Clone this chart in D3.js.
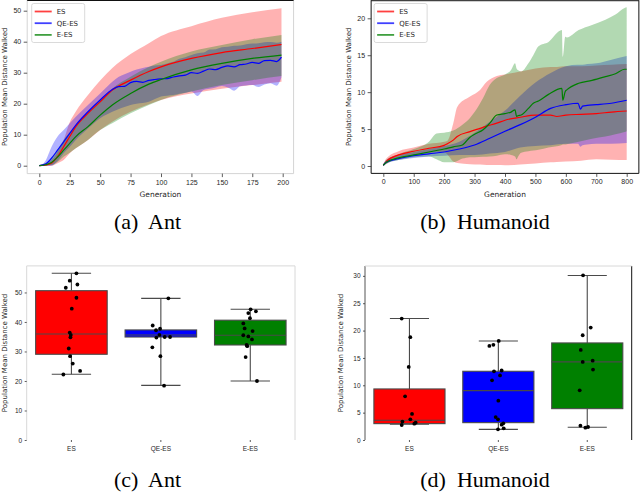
<!DOCTYPE html>
<html>
<head>
<meta charset="utf-8">
<script src="https://cdn.jsdelivr.net/npm/d3@7"></script>
<style>
body { margin: 0; background: #fff; }
svg { display: block; font-family: "DejaVu Sans", sans-serif; }
.tick text { fill: #262626; }
.tick line { stroke: #333; }
.cap { font-family: "Liberation Serif", "Times New Roman", serif; font-size: 22px; fill: #000; white-space: pre; }
</style>
</head>
<body>
<svg width="640" height="492"></svg>
<script>
var methods = ["ES", "QE-ES", "E-ES"];
var colors = {"ES": "#ff0000", "QE-ES": "#0000ff", "E-ES": "#008000"};

// ---- (a) Ant : training curves ----
var antGen = [0,5,10,15,20,25,30,40,50,60,75,90,100,125,150,175,199];
var antEsMean = [0,0.2,0.8,2.9,6.1,9.4,12.6,16.9,20.6,24.4,27.6,30.4,31.9,34.6,36.5,37.8,39.1];
var antEsHigh = [0,0.5,1.8,4.5,8.3,14,17.5,22.8,27.5,31.5,36,39.5,41.8,45,47.7,49.5,50.8];
var antEsLow  = [0,0,0,0.8,1.8,4,5.6,8.3,11.5,14.2,17.4,19.8,21.2,23.3,24.8,26,27.1];
var antEeMean = [0,0.3,1,2.8,5,7.2,9.4,12.6,16.3,19.6,23.3,26.3,27.8,30.9,33,34.6,35.7];
var antEeHigh = [0,0.8,2.4,5.2,8.3,10.8,13.1,17.4,21.2,24.9,28.7,31.8,33.5,36.8,38.9,40.8,42.2];
var antEeLow  = [0,0,0.2,1.2,2.9,4.2,5.6,8.3,11.5,13.7,16.9,19.6,21.2,23.9,26,27.6,28.9];
var antQeGen  = [0,5,10,15,20,25,30,40,50,60,65,70,75,80,85,90,95,100,105,110,115,120,125,130,135,140,145,150,155,160,165,170,175,180,185,190,195,199];
var antQeMean = [0,0.5,2.4,5,7.7,10.4,13.1,17.4,21.2,24.6,25.5,25.6,26.8,27.2,26.9,27.5,27.8,28,28.1,28.6,29,29.2,30,29.8,30.5,31.2,31,31.7,32.2,31.9,32.6,32.8,33.3,33,33.9,34,33.6,35];
var antQeHigh = [0,1.5,6,9.4,11.5,13.7,15.8,19.6,23.3,27.1,28.6,29.5,30.3,31,31.5,31.9,32.3,32.5,33,33.5,34.5,35,35.7,36.3,36.5,37.5,37.6,38.2,38.4,38.7,38.8,39.2,39.4,39.5,39.8,39.9,39.7,40];
var antQeLow  = [0,0,0,1.5,4,6,8.3,12,15.3,17.4,18.2,18.9,19.6,20,20.2,20.6,21.5,22.3,22.6,22.8,23.2,23.5,23.9,22.5,24.4,24.8,25.2,25.7,25.2,24.2,25.6,25.9,26,25.4,26.2,26.6,25.8,28.5];
var antTicksX = [0,25,50,75,100,125,150,175,200];
var antTicksY = [0,10,20,30,40,50];

// ---- (b) Humanoid : training curves ----
var humEsGen  = [0,10,50,100,150,200,210,230,243,285,318,340,373,400,450,500,550,570,600,650,700,750,800];
var humEsMean = [0.1,0.6,1.5,2.0,2.4,2.8,3.0,3.5,4.0,4.65,5.1,5.4,5.8,6.2,6.6,6.9,6.9,6.7,6.9,7.0,7.1,7.3,7.45];
var humEsHigh = [0.2,1.0,2.0,2.5,3.0,3.3,3.4,5.8,8.0,9.4,10.3,11.4,12.2,12.4,12.8,13.2,13.4,13.4,13.5,13.5,13.6,13.7,13.8];
var humEsLow  = [0,0.3,1.1,1.5,1.75,1.9,1.6,0.6,0.4,0.25,0.2,0.15,0.12,0.1,0.2,0.35,0.5,0.55,0.6,0.7,0.9,0.85,0.8];
var humQeGen  = [0,10,50,100,150,200,250,300,350,400,450,500,550,600,640,648,655,670,700,750,800];
var humQeMean = [0.1,0.5,1.0,1.4,1.65,1.9,2.3,2.85,3.75,4.7,5.6,6.6,7.8,8.3,8.5,7.7,8.1,8.2,8.3,8.5,8.9];
var humQeHigh = [0.2,0.8,1.5,1.9,2.3,2.7,3.3,4.5,6.0,7.5,9.5,11.3,12.6,13.5,13.7,13.7,13.7,13.8,13.9,14.4,14.9];
var humQeLow  = [0,0.3,0.8,1.1,1.3,1.4,1.5,1.5,1.7,1.9,2.5,2.7,2.8,3.0,3.0,2.6,2.8,2.9,3.0,3.0,3.1];
var humEeGen  = [0,10,50,100,150,175,200,230,260,285,300,328,350,373,400,420,433,438,442,453,477,493,510,543,587,590,598,603,642,686,730,763,793,800];
var humEeMean = [0.1,0.5,1.1,1.5,1.9,2.1,2.3,2.6,2.85,3.9,4.3,4.9,5.8,6.9,7.1,7.3,7.6,6.7,6.8,6.9,7.8,8.5,8.8,9.7,10.5,8.9,10.1,10.3,11.2,11.6,12.1,12.5,13.1,13.1];
var humEeHigh = [0.2,0.8,1.6,2.3,3.3,4.4,4.5,4.8,5.6,6.5,7.3,9.2,11.0,11.9,12.4,13.0,13.9,13.2,13.0,12.8,13.9,15.0,16.2,16.8,18.4,14.8,17.5,17.4,18.4,19.1,19.8,20.5,21.4,21.5];
var humEeLow  = [0,0.3,0.8,1.2,1.3,0.9,0.5,0.5,1.0,1.2,1.2,1.25,1.3,1.4,1.6,1.5,1.3,0.9,1.2,1.8,2.0,2.1,2.2,2.5,2.85,2.9,2.9,2.95,3.3,3.7,4.0,4.3,4.6,4.7];
var humTicksX = [0,100,200,300,400,500,600,700,800];
var humTicksY = [0,5,10,15,20];

// ---- (c) Ant : final distance boxes  [low whisker, q1, median, q3, high whisker] ----
var antBoxEs = [22.3,29.05,35.9,50.6,56.5];
var antBoxQe = [18.5,34.9,35.6,37.3,48.0];
var antBoxEe = [20.0,32.2,35.5,40.6,44.3];
var antPtsEs = [56.5,54.0,52.7,51.6,48.2,44.5,36.4,35.6,34.8,31.0,28.4,25.9,23.4,22.2];
var antJitEs = [0.056,-0.019,0.067,-0.063,0.056,0.004,-0.019,-0.007,-0.011,-0.03,-0.015,0.015,0.097,-0.09];
var antPtsQe = [48.0,38.8,37.2,37.7,35.6,34.7,34.9,34.9,31.4,28.4,18.4];
var antJitQe = [0.084,-0.091,-0.054,-0.009,-0.016,-0.05,0.043,0.103,-0.095,-0.005,0.036];
var antPtsEe = [44.3,43.6,43.0,41.3,39.5,37.8,36.9,35.5,35.1,34.1,32.2,31.8,28.1,20.0];
var antJitEe = [0.004,0.063,-0.022,-0.004,-0.078,-0.063,0.026,-0.078,-0.022,0.019,-0.041,-0.034,-0.052,0.075];
var antBoxTicks = [0,10,20,30,40,50];

// ---- (d) Humanoid : final distance boxes ----
var humBoxEs = [2.88,2.99,3.6,9.33,22.2];
var humBoxQe = [1.95,3.17,9.02,12.56,18.1];
var humBoxEe = [2.32,5.73,14.27,17.74,30.06];
var humPtsEs = [22.2,18.8,13.35,7.99,4.76,3.78,3.36,3.17,2.99,2.74];
var humJitEs = [-0.087,0.01,-0.008,-0.049,0.029,0.01,-0.079,0.07,0.055,-0.087];
var humPtsQe = [18.1,17.4,17.2,12.56,12.7,11.8,10.9,7.19,4.19,3.78,3.05,2.8,2.13,1.95];
var humJitQe = [0.004,-0.056,-0.101,-0.049,0.037,0.019,-0.071,0,-0.03,-0.004,0.056,0.037,0.06,-0.004];
var humPtsEe = [30.1,20.55,19.14,16.46,14.27,14.5,12.87,9.08,2.62,2.26,2.38];
var humJitEe = [-0.047,0.039,-0.051,-0.073,-0.051,0.061,0.065,-0.085,-0.077,-0.021,0.009];
var humBoxTicks = [0,5,10,15,20,25,30];

var ylabel = "Population Mean Distance Walked";
var svg = d3.select("svg");

function styleAxis(sel, size) {
  sel.select(".domain").remove();
  sel.selectAll("text").attr("font-size", size);
  sel.selectAll("line").attr("stroke-width", 0.8);
}

function zip(gen, mean, low, high) {
  return gen.map(function(g, i) { return {g: g, m: mean[i], lo: low[i], hi: high[i]}; });
}

// line chart with shaded bands
function curvePanel(o) {
  var g = svg.append("g");
  var left = o.x(o.xlim[0]), right = o.x(o.xlim[1]), top = o.y(o.ylim[1]), bottom = o.y(o.ylim[0]);

  var area = d3.area().curve(d3.curveMonotoneX)
      .x(function(d) { return o.x(d.g); })
      .y0(function(d) { return o.y(d.lo); })
      .y1(function(d) { return o.y(d.hi); });
  var line = d3.line().curve(d3.curveMonotoneX)
      .x(function(d) { return o.x(d.g); })
      .y(function(d) { return o.y(d.m); });

  o.series.forEach(function(s) {
    g.append("path").attr("d", area(s.data)).attr("fill", colors[s.key]).attr("fill-opacity", 0.3);
  });
  o.series.forEach(function(s) {
    g.append("path").attr("d", line(s.data)).attr("fill", "none")
      .attr("stroke", colors[s.key]).attr("stroke-width", 1.2);
  });

  // frame
  g.append("line").attr("x1", left).attr("x2", left).attr("y1", top).attr("y2", bottom).attr("stroke", o.frame[0]);
  g.append("line").attr("x1", left).attr("x2", right).attr("y1", bottom).attr("y2", bottom).attr("stroke", o.frame[1]);
  g.append("line").attr("x1", right).attr("x2", right).attr("y1", top).attr("y2", bottom).attr("stroke", o.frame[2]);
  g.append("line").attr("x1", left).attr("x2", right).attr("y1", top + 0.5).attr("y2", top + 0.5).attr("stroke", o.frame[3]);

  g.append("g").attr("transform", "translate(0," + bottom + ")")
    .call(d3.axisBottom(o.x).tickValues(o.xticks).tickSize(3.5).tickPadding(2.5))
    .call(styleAxis, 7);
  g.append("g").attr("transform", "translate(" + left + ",0)")
    .call(d3.axisLeft(o.y).tickValues(o.yticks).tickSize(3.5).tickPadding(2.5))
    .call(styleAxis, 7);

  g.append("text").attr("x", (left + right) / 2).attr("y", 196.5)
    .attr("text-anchor", "middle").attr("font-size", 7.5).attr("fill", "#262626").text("Generation");
  g.append("text").attr("transform", "translate(" + (left - 20) + "," + (top + bottom) / 2 + ") rotate(-90)")
    .attr("text-anchor", "middle").attr("font-size", 7).attr("fill", "#262626").text(ylabel);

  // legend
  var lg = g.append("g").attr("transform", "translate(" + (left + o.legendDx) + ",3.5)");
  lg.append("rect").attr("width", 53).attr("height", 39).attr("rx", 2)
    .attr("fill", "#fff").attr("fill-opacity", 0.85).attr("stroke", "#d0d0d0").attr("stroke-width", 0.8);
  methods.forEach(function(m, i) {
    var yy = 8 + i * 11.7;
    lg.append("line").attr("x1", 3).attr("x2", 20).attr("y1", yy).attr("y2", yy)
      .attr("stroke", colors[m]).attr("stroke-width", 1.8).attr("stroke-opacity", 0.75);
    lg.append("text").attr("x", 25).attr("y", yy).attr("dy", "0.35em")
      .attr("font-size", 7).attr("fill", "#262626").text(m);
  });
}

// box plot with overlaid points
function boxPanel(o) {
  var g = svg.append("g");
  var left = o.x.range()[0], right = o.x.range()[1], top = o.y.range()[1], bottom = o.y.range()[0];
  var bw = o.x.bandwidth() * 0.8, cw = o.x.bandwidth() * 0.44;
  var edge = "#4a4a4a";

  g.append("line").attr("x1", left).attr("x2", left).attr("y1", top).attr("y2", bottom).attr("stroke", o.frame[0]);
  g.append("line").attr("x1", right).attr("x2", right).attr("y1", top).attr("y2", bottom).attr("stroke", o.frame[2]);
  g.append("line").attr("x1", left).attr("x2", right).attr("y1", top).attr("y2", top).attr("stroke", o.frame[3]);

  methods.forEach(function(m, i) {
    var b = o.boxes[i], cx = o.x(m) + o.x.bandwidth() / 2;
    var bx = g.append("g").attr("stroke", edge).attr("stroke-width", 1.1);
    bx.append("line").attr("x1", cx).attr("x2", cx).attr("y1", o.y(b[0])).attr("y2", o.y(b[1]));
    bx.append("line").attr("x1", cx).attr("x2", cx).attr("y1", o.y(b[3])).attr("y2", o.y(b[4]));
    bx.append("line").attr("x1", cx - cw / 2).attr("x2", cx + cw / 2).attr("y1", o.y(b[0])).attr("y2", o.y(b[0]));
    bx.append("line").attr("x1", cx - cw / 2).attr("x2", cx + cw / 2).attr("y1", o.y(b[4])).attr("y2", o.y(b[4]));
    bx.append("rect").attr("x", cx - bw / 2).attr("width", bw)
      .attr("y", o.y(b[3])).attr("height", o.y(b[1]) - o.y(b[3])).attr("fill", colors[m]);
    bx.append("line").attr("x1", cx - bw / 2).attr("x2", cx + bw / 2).attr("y1", o.y(b[2])).attr("y2", o.y(b[2]));

    g.selectAll(null).data(o.points[i]).enter().append("circle")
      .attr("cx", function(d, j) { return cx + o.jitter[i][j] * o.x.bandwidth(); })
      .attr("cy", function(d) { return o.y(d); })
      .attr("r", 1.9).attr("fill", "#000");
  });

  g.append("g").attr("transform", "translate(0," + bottom + ")")
    .call(d3.axisBottom(o.x).tickSize(2).tickPadding(4))
    .call(styleAxis, 6.5);
  g.append("g").attr("transform", "translate(" + left + ",0)")
    .call(d3.axisLeft(o.y).tickValues(o.yticks).tickSize(2).tickPadding(2.5))
    .call(styleAxis, 6.5);

  g.append("text").attr("transform", "translate(" + o.labelX + "," + (top + bottom) / 2 + ") rotate(-90)")
    .attr("text-anchor", "middle").attr("font-size", 7).attr("fill", "#262626").text(ylabel);
}

curvePanel({
  x: d3.scaleLinear().domain([0, 200]).range([39.3, 282.7]),
  y: d3.scaleLinear().domain([0, 50]).range([165.7, 10.7]),
  xlim: [-9.95, 208.95], ylim: [-2.55, 53.45],
  xticks: antTicksX, yticks: antTicksY,
  frame: ["#d4d4d4", "#d4d4d4", "#d4d4d4", "#111"],
  legendDx: 4.5,
  series: [
    {key: "ES", data: zip(antGen, antEsMean, antEsLow, antEsHigh)},
    {key: "QE-ES", data: zip(antQeGen, antQeMean, antQeLow, antQeHigh)},
    {key: "E-ES", data: zip(antGen, antEeMean, antEeLow, antEeHigh)}
  ]
});

curvePanel({
  x: d3.scaleLinear().domain([0, 800]).range([383.3, 626.7]),
  y: d3.scaleLinear().domain([0, 20]).range([166, 18.3]),
  xlim: [-40, 840], ylim: [-1.0, 22.45],
  xticks: humTicksX, yticks: humTicksY,
  frame: ["#111", "#111", "#111", "#111"],
  legendDx: 3,
  series: [
    {key: "ES", data: zip(humEsGen, humEsMean, humEsLow, humEsHigh)},
    {key: "QE-ES", data: zip(humQeGen, humQeMean, humQeLow, humQeHigh)},
    {key: "E-ES", data: zip(humEeGen, humEeMean, humEeLow, humEeHigh)}
  ]
});

boxPanel({
  x: d3.scaleBand().domain(methods).range([26.7, 295]),
  y: d3.scaleLinear().domain([0, 59]).range([440, 265.9]),
  yticks: antBoxTicks,
  frame: ["#d8d8d8", null, "#d8d8d8", "#d8d8d8"],
  boxes: [antBoxEs, antBoxQe, antBoxEe],
  points: [antPtsEs, antPtsQe, antPtsEe],
  jitter: [antJitEs, antJitQe, antJitEe],
  labelX: 7
});

boxPanel({
  x: d3.scaleBand().domain(methods).range([365, 631.7]),
  y: d3.scaleLinear().domain([0, 31.8]).range([440, 266]),
  yticks: humBoxTicks,
  frame: ["#555", null, "#111", "#d8d8d8"],
  boxes: [humBoxEs, humBoxQe, humBoxEe],
  points: [humPtsEs, humPtsQe, humPtsEe],
  jitter: [humJitEs, humJitQe, humJitEe],
  labelX: 343
});

// sub-captions
[["(a)  Ant", 147.5, 228.5], ["(b)  Humanoid", 485, 228.5],
 ["(c)  Ant", 147.5, 486.5], ["(d)  Humanoid", 485, 486.5]].forEach(function(c) {
  svg.append("text").attr("class", "cap").attr("x", c[1]).attr("y", c[2])
    .attr("text-anchor", "middle").text(c[0]);
});
</script>
</body>
</html>
